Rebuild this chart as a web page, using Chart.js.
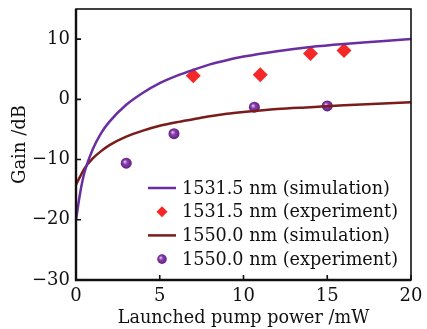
<!DOCTYPE html>
<html>
<head>
<meta charset="utf-8">
<script src="https://cdn.jsdelivr.net/npm/chart.js@4.4.0/dist/chart.umd.min.js"></script>
<style>
  html, body { margin: 0; padding: 0; background: #fff; }
  #wrap { width: 427px; height: 329px; }
</style>
</head>
<body>
<div id="wrap"><canvas id="gainChart" width="427" height="329"></canvas></div>
<script>
// Simulation curves
const simPower = [0, 0.25, 0.5, 1, 1.5, 2, 3, 4, 5, 6, 7, 8, 9, 10, 12, 14, 16, 18, 20];
const sim1531 = [-20, -15.5, -12.2, -8.3, -5.6, -3.7, -0.9, 1.1, 2.7, 3.9, 4.9, 5.8, 6.5, 7.1, 8.0, 8.7, 9.2, 9.6, 10.0];
const sim1550 = [-14.2, -12.8, -11.5, -9.8, -8.6, -7.6, -6.2, -5.2, -4.4, -3.8, -3.3, -2.8, -2.4, -2.1, -1.6, -1.3, -1.0, -0.75, -0.5];

// Experiment points
const exp1531Power = [7, 11, 14, 16];
const exp1531Gain = [3.9, 4.1, 7.6, 8.1];
const exp1550Power = [3, 5.85, 10.65, 15];
const exp1550Gain = [-10.6, -5.7, -1.3, -1.1];

const legendLabels = ['1531.5 nm (simulation)', '1531.5 nm (experiment)', '1550.0 nm (simulation)', '1550.0 nm (experiment)'];
const xTicks = [0, 5, 10, 15, 20];
const yTicks = [-30, -20, -10, 0, 10];

const serif = "'DejaVu Serif', 'Liberation Serif', serif";
const toXY = (xs, ys) => xs.map((x, i) => ({ x: x, y: ys[i] }));

// shaded ball for the 1550 nm points
function ballFill(ctx) {
    const p = ctx.element;
    if (!p || p.x === undefined) return '#7a3596';
    const g = ctx.chart.ctx.createRadialGradient(p.x - 1.5, p.y - 1.5, 0.5, p.x, p.y, 5.5);
    g.addColorStop(0, '#d9b6ea');
    g.addColorStop(0.35, '#8a3fae');
    g.addColorStop(1, '#5e1f80');
    return g;
}

// legend inside the plot area + inward ticks
const insideLegend = {
    id: 'insideLegend',
    afterDraw(chart) {
        const c = chart.ctx;
        const ds = chart.data.datasets;
        const x0 = 148, y0 = 188, step = 23.7;
        c.save();
        ds.forEach((d, i) => {
            const y = y0 + i * step;
            if (d.showLine) {
                c.strokeStyle = d.borderColor;
                c.lineWidth = 2.5;
                c.beginPath();
                c.moveTo(x0, y);
                c.lineTo(x0 + 28, y);
                c.stroke();
            } else if (d.pointStyle === 'rectRot') {
                c.fillStyle = d.backgroundColor;
                c.beginPath();
                c.moveTo(x0 + 14, y - 5.5);
                c.lineTo(x0 + 19.5, y);
                c.lineTo(x0 + 14, y + 5.5);
                c.lineTo(x0 + 8.5, y);
                c.closePath();
                c.fill();
            } else {
                const g = c.createRadialGradient(x0 + 12.5, y - 1.5, 0.5, x0 + 14, y, 5);
                g.addColorStop(0, '#d9b6ea');
                g.addColorStop(0.35, '#8a3fae');
                g.addColorStop(1, '#5e1f80');
                c.fillStyle = g;
                c.beginPath();
                c.arc(x0 + 14, y, 4.8, 0, Math.PI * 2);
                c.fill();
            }
            c.fillStyle = '#111';
            c.font = '17.6px ' + serif;
            c.textBaseline = 'middle';
            c.fillText(d.label, x0 + 34, y + 1);
        });

        // frame and inward ticks
        const a = chart.chartArea;
        const xs = chart.scales.x, ys = chart.scales.y;
        c.strokeStyle = '#111';
        c.lineWidth = 1.6;
        c.strokeRect(a.left, a.top, a.right - a.left, a.bottom - a.top);
        c.lineWidth = 2.4;
        c.beginPath();
        c.moveTo(a.left, a.top);
        c.lineTo(a.left, a.bottom);
        c.lineTo(a.right, a.bottom);
        c.stroke();
        c.lineWidth = 1.6;
        c.beginPath();
        xTicks.forEach(v => {
            const px = xs.getPixelForValue(v);
            c.moveTo(px, a.bottom);
            c.lineTo(px, a.bottom - 5);
        });
        yTicks.forEach(v => {
            const py = ys.getPixelForValue(v);
            c.moveTo(a.left, py);
            c.lineTo(a.left + 5, py);
        });
        c.stroke();
        c.restore();
    }
};

new Chart(document.getElementById('gainChart'), {
    type: 'scatter',
    data: {
        datasets: [
            {
                label: legendLabels[0],
                data: toXY(simPower, sim1531),
                showLine: true,
                borderColor: '#6a2ea0',
                borderWidth: 2.5,
                pointRadius: 0,
                tension: 0.4,
                cubicInterpolationMode: 'monotone'
            },
            {
                label: legendLabels[1],
                data: toXY(exp1531Power, exp1531Gain),
                showLine: false,
                pointStyle: 'rectRot',
                pointRadius: 7.5,
                backgroundColor: '#f42828',
                borderWidth: 0
            },
            {
                label: legendLabels[2],
                data: toXY(simPower, sim1550),
                showLine: true,
                borderColor: '#7a1c1c',
                borderWidth: 2.5,
                pointRadius: 0,
                tension: 0.4,
                cubicInterpolationMode: 'monotone'
            },
            {
                label: legendLabels[3],
                data: toXY(exp1550Power, exp1550Gain),
                showLine: false,
                pointStyle: 'circle',
                pointRadius: 5.5,
                backgroundColor: ballFill,
                borderWidth: 0
            }
        ]
    },
    options: {
        responsive: false,
        animation: false,
        layout: { padding: { top: 9, right: 16, left: 0, bottom: 0 } },
        plugins: {
            legend: { display: false },
            tooltip: { enabled: false }
        },
        scales: {
            x: {
                type: 'linear',
                min: 0,
                max: 20,
                afterBuildTicks: s => { s.ticks = xTicks.map(v => ({ value: v })); },
                afterFit: s => { s.height = 49; s.paddingLeft = 0; s.paddingRight = 0; },
                grid: { display: false, drawTicks: false },
                border: { display: false },
                ticks: {
                    color: '#111',
                    padding: 6,
                    font: { family: serif, size: 18 }
                },
                title: {
                    display: true,
                    text: 'Launched pump power /mW',
                    color: '#111',
                    padding: { top: 0, bottom: 0 },
                    font: { family: serif, size: 17.6 }
                }
            },
            y: {
                type: 'linear',
                min: -30,
                max: 15,
                afterBuildTicks: s => { s.ticks = yTicks.map(v => ({ value: v })); },
                afterFit: s => { s.width = 76; s.paddingTop = 0; s.paddingBottom = 0; },
                grid: { display: false, drawTicks: false },
                border: { display: false },
                ticks: {
                    color: '#111',
                    padding: 6,
                    font: { family: serif, size: 18 },
                    callback: v => String(v).replace('-', '\u2212')
                },
                title: {
                    display: true,
                    text: 'Gain /dB',
                    color: '#111',
                    padding: { top: 10, bottom: 0 },
                    font: { family: serif, size: 18 }
                }
            }
        }
    },
    plugins: [insideLegend]
});
</script>
</body>
</html>
